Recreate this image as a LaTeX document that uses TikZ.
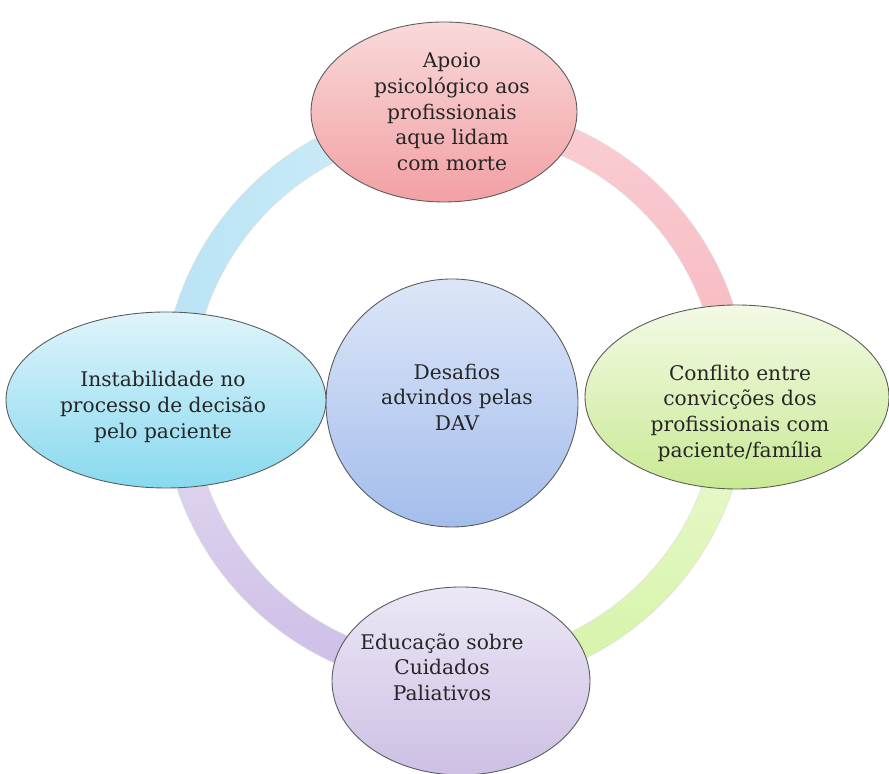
\documentclass[tikz,border=0pt]{standalone}
\usepackage{fontspec}
\setmainfont{DejaVu Serif}
\usetikzlibrary{shapes.geometric}
\usetikzlibrary{positioning}

\definecolor{txtgray}{HTML}{262626}
\definecolor{rimgray}{HTML}{5A5A5A}
\definecolor{bluetop}{HTML}{DDE6F8}
\definecolor{bluebot}{HTML}{A3BDEC}
\definecolor{pinktop}{HTML}{F9D9D9}
\definecolor{pinkbot}{HTML}{F2A0A4}
\definecolor{cyantop}{HTML}{DFF4FB}
\definecolor{cyanbot}{HTML}{88D9EF}
\definecolor{greentop}{HTML}{F3FAE5}
\definecolor{greenbot}{HTML}{C9E994}
\definecolor{lilactop}{HTML}{EDE7F6}
\definecolor{lilacbot}{HTML}{CDC0E4}
% ring colours
\definecolor{cyanarcA}{HTML}{B8E3F5}
\definecolor{cyanarcB}{HTML}{D0EDF9}
\definecolor{pinkarcA}{HTML}{F9CED3}
\definecolor{pinkarcB}{HTML}{F7B8BF}
\definecolor{greenarcA}{HTML}{EAF9D0}
\definecolor{greenarcB}{HTML}{D4F3A6}
\definecolor{lilacarcA}{HTML}{E2D8F0}
\definecolor{lilacarcB}{HTML}{CCBDE6}

\begin{document}
\begin{tikzpicture}[
	bubble/.style = {draw=rimgray, line width=0.5pt, ellipse, inner sep=0pt},
	txt/.style = {align=center, text=txtgray, font=\fontsize{11.5}{14.6}\selectfont},
	ringpart/.style = {shift={(@ring)}, draw=black!12, line width=0.3pt}
	]
	\useasboundingbox (0,0) rectangle (17.78,15.48);

	\coordinate (@ring) at (9.10,7.56);

	% ring between the bubbles
	\shade[ringpart, left color=cyanarcA, right color=cyanarcB]
		(100:5.26) arc (100:175:5.26) -- (175:5.86) arc (175:100:5.86) -- cycle;
	\shade[ringpart, top color=pinkarcA, bottom color=pinkarcB]
		(80:5.26) arc (80:5:5.26) -- (5:5.86) arc (5:80:5.86) -- cycle;
	\shade[ringpart, top color=greenarcA, bottom color=greenarcB]
		(-5:5.26) arc (-5:-80:5.26) -- (-80:5.86) arc (-80:-5:5.86) -- cycle;
	\shade[ringpart, top color=lilacarcA, bottom color=lilacarcB]
		(185:5.26) arc (185:260:5.26) -- (260:5.86) arc (260:185:5.86) -- cycle;

	\node[bubble, minimum width=5.04cm, minimum height=4.96cm,
		top color=bluetop, bottom color=bluebot] (desafios) at (9.04,7.42) {};
	\node[bubble, minimum width=5.32cm, minimum height=3.6cm,
		top color=pinktop, bottom color=pinkbot] (apoio) at (8.88,13.24) {};
	\node[bubble, minimum width=6.4cm, minimum height=3.52cm,
		top color=cyantop, bottom color=cyanbot] (instab) at (3.32,7.48) {};
	\node[bubble, minimum width=6.08cm, minimum height=3.68cm,
		top color=greentop, bottom color=greenbot] (conflito) at (14.74,7.54) {};
	\node[bubble, minimum width=5.16cm, minimum height=3.76cm,
		top color=lilactop, bottom color=lilacbot] (educ) at (9.22,1.86) {};

	\node[txt] (desafios-t) at (9.14,7.54) {Desafios\\advindos pelas\\DAV};
	\node[txt] (apoio-t) at (9.04,13.24) {Apoio\\psicológico aos\\profissionais\\aque lidam\\com morte};
	\node[txt] (instab-t) at (3.26,7.34) {Instabilidade no\\processo de decisão\\pelo paciente};
	\node[txt] (conflito-t) at (14.80,7.22) {Conflito entre\\convicções dos\\profissionais com\\paciente/família};
	\node[txt] (educ-t) at (8.84,2.14) {Educação sobre\\Cuidados\\Paliativos};

\end{tikzpicture}
\end{document}
